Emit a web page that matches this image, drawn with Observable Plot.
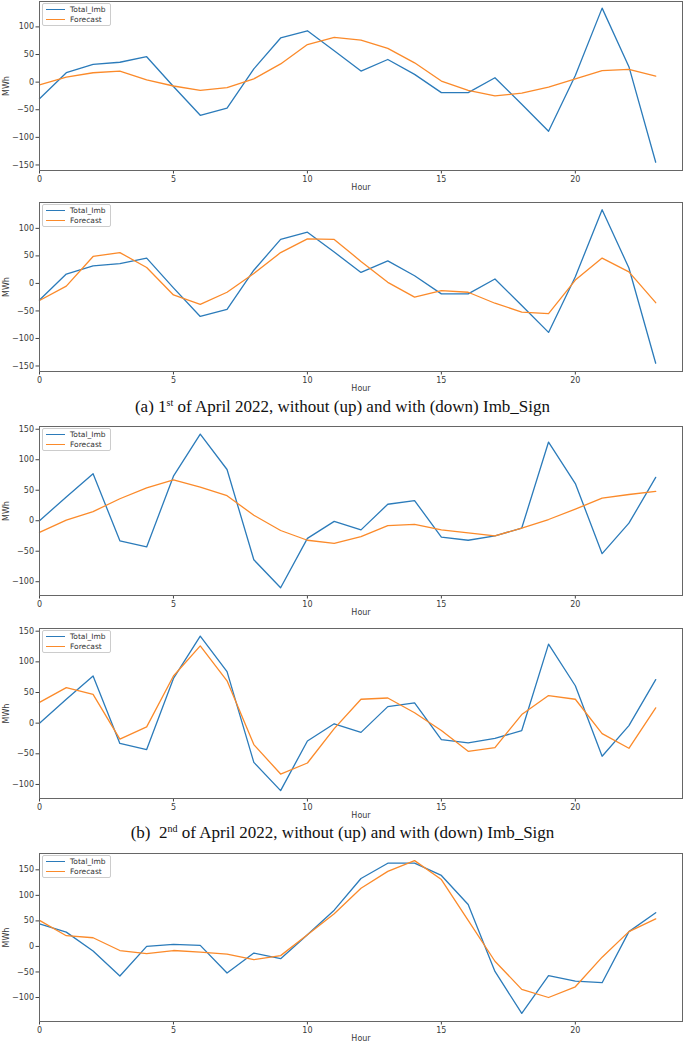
<!DOCTYPE html>
<html>
<head>
<meta charset="utf-8">
<script src="https://cdn.jsdelivr.net/npm/d3@7"></script>
<script src="https://cdn.jsdelivr.net/npm/@observablehq/plot@0.6"></script>
<style>
  html, body { margin: 0; padding: 0; background: #fff; }
  #root { position: relative; width: 685px; height: 1043px; overflow: hidden; }
  .panel { position: absolute; left: 0; }
  .legend { position: absolute; border: 1px solid #ccc; border-radius: 2px; background: rgba(255,255,255,0.85);
            font-family: "DejaVu Sans", sans-serif; font-size: 7.5px; color: #333; padding: 1px 4px 1px 3px; line-height: 9.5px; }
  .legend .row { display: flex; align-items: center; }
  .legend .sw { display: inline-block; width: 19px; height: 0; border-top: 1.5px solid; margin-right: 5px; }
  .caption { position: absolute; left: 0; width: 685px; text-align: center; font-family: "Liberation Serif", "Times New Roman", serif;
             font-size: 17px; color: #111; white-space: pre; }
  .caption sup { font-size: 10px; vertical-align: 6px; line-height: 0; }
</style>
</head>
<body>
<div id="root"></div>
<script>
// ---- data ----
const hours = [0,1,2,3,4,5,6,7,8,9,10,11,12,13,14,15,16,17,18,19,20,21,22,23];

// 1st of April 2022
const imbDay1 = [-30,17,32,36,46,-8,-60,-47,24,80,93,57,20,41,14,-19,-19,8,-40,-89,12,134,28,-145];
const fcDay1NoSign = [-5,9,17,20,4,-7,-15,-10,6,33,68,81,76,61,35,2,-15,-25,-20,-9,6,21,23,11];
const fcDay1Sign = [-31,-5,49,56,29,-21,-38,-16,18,56,81,80,40,2,-25,-13,-16,-36,-52,-55,6,46,21,-35];

// 2nd of April 2022
const imbDay2 = [0,39,77,-33,-43,73,142,84,-64,-110,-29,-1,-15,27,33,-27,-32,-25,-12,129,61,-54,-4,71];
const fcDay2NoSign = [-19,1,15,36,54,67,55,41,9,-16,-32,-37,-26,-8,-6,-15,-20,-25,-12,2,19,37,43,48];
const fcDay2Sign = [34,58,47,-26,-6,77,126,69,-35,-83,-65,-9,39,41,17,-12,-46,-40,14,45,39,-17,-41,25];

// 3rd panel
const imbDay3 = [44,28,-9,-58,0,4,2,-52,-13,-24,23,71,133,163,163,139,82,-49,-131,-57,-68,-71,29,66];
const fcDay3 = [51,21,17,-8,-14,-8,-11,-15,-26,-18,23,64,114,147,168,131,51,-29,-84,-100,-79,-21,29,54];

const xTicks = [0,5,10,15,20];
const yTicksA = [-150,-100,-50,0,50,100];
const yTicksB = [-100,-50,0,50,100,150];

const seriesNames = ["Total_Imb", "Forecast"];
const seriesColors = ["#2b7bba", "#fb8a2a"];

const captionA = ["(a) 1", "st", " of April 2022, without (up) and with (down) Imb_Sign"];
const captionB = ["(b)  2", "nd", " of April 2022, without (up) and with (down) Imb_Sign"];

// ---- drawing ----
const root = document.getElementById("root");
const MT = 10, MB = 26, ML = 39, MR = 3;

function panel(frameTop, plotH, imb, fc, yDomain, yTicks) {
  const rows = hours.map((h, i) => ({hour: h, imb: imb[i], fc: fc[i]}));
  const svg = Plot.plot({
    width: 685,
    height: plotH + MT + MB,
    marginTop: MT, marginBottom: MB, marginLeft: ML, marginRight: MR,
    style: {fontFamily: "DejaVu Sans, sans-serif", fontSize: "8px", color: "#3a3a3a", background: "transparent", overflow: "visible"},
    x: {domain: [0, 24]},
    y: {domain: yDomain},
    marks: [
      Plot.axisX({ticks: xTicks, tickSize: 3.5, tickPadding: 2, label: "Hour", labelAnchor: "center", labelArrow: "none", labelOffset: 19, stroke: "#444"}),
      Plot.axisY({ticks: yTicks, tickSize: 3.5, tickPadding: 2, label: "MWh", labelAnchor: "center", labelArrow: "none", labelOffset: 36, stroke: "#444"}),
      Plot.line(rows, {x: "hour", y: "imb", stroke: seriesColors[0], strokeWidth: 1.3}),
      Plot.line(rows, {x: "hour", y: "fc", stroke: seriesColors[1], strokeWidth: 1.3}),
      Plot.frame({stroke: "#666", strokeWidth: 1})
    ]
  });
  svg.classList.add("panel");
  svg.style.top = (frameTop - MT) + "px";
  root.appendChild(svg);

  const lg = document.createElement("div");
  lg.className = "legend";
  lg.style.left = (ML + 3) + "px";
  lg.style.top = (frameTop + 2) + "px";
  seriesNames.forEach((n, i) => {
    const r = document.createElement("div");
    r.className = "row";
    const sw = document.createElement("span");
    sw.className = "sw";
    sw.style.borderTopColor = seriesColors[i];
    const t = document.createElement("span");
    t.textContent = n;
    r.appendChild(sw); r.appendChild(t);
    lg.appendChild(r);
  });
  root.appendChild(lg);
}

function caption(top, parts) {
  const c = document.createElement("div");
  c.className = "caption";
  c.style.top = top + "px";
  c.appendChild(document.createTextNode(parts[0]));
  const s = document.createElement("sup");
  s.textContent = parts[1];
  c.appendChild(s);
  c.appendChild(document.createTextNode(parts[2]));
  root.appendChild(c);
}

panel(1, 169, imbDay1, fcDay1NoSign, [-160, 146], yTicksA);
panel(202, 169, imbDay1, fcDay1Sign, [-160, 147], yTicksA);
caption(397, captionA);
panel(426, 169, imbDay2, fcDay2NoSign, [-122.6, 154.5], yTicksB);
panel(628, 170, imbDay2, fcDay2Sign, [-122.9, 154.4], yTicksB);
caption(823, captionB);
panel(853, 168, imbDay3, fcDay3, [-147, 182], yTicksB);
</script>
</body>
</html>
